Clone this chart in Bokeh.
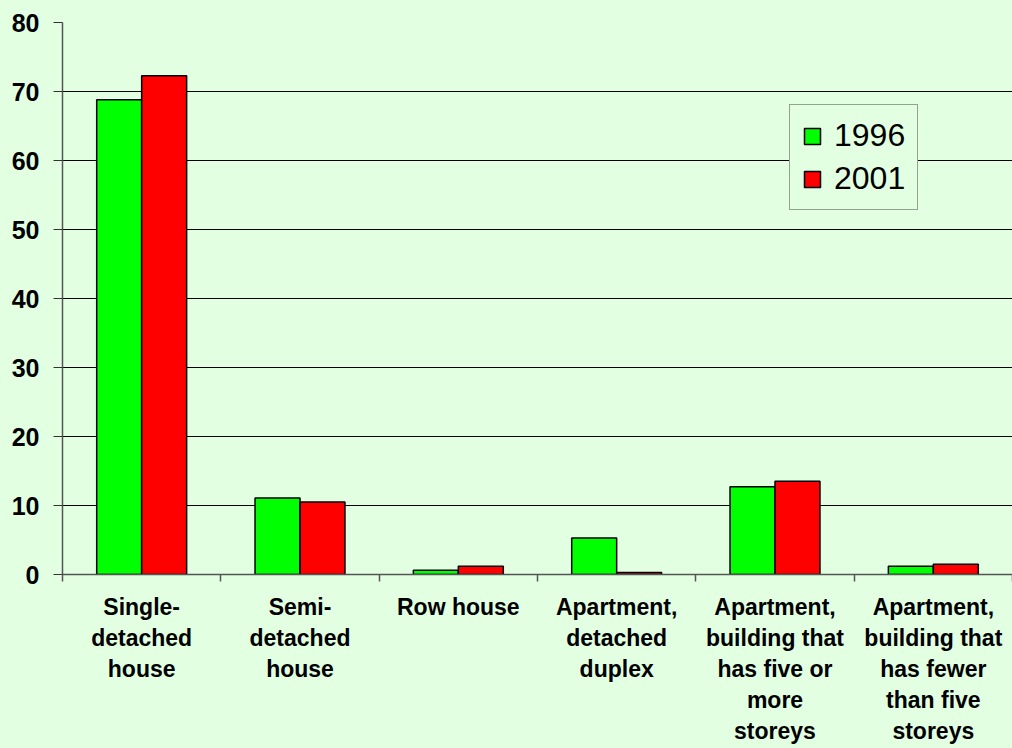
from bokeh.plotting import figure
from bokeh.models import Range1d, FixedTicker, Legend, LegendItem, ColumnDataSource
from bokeh.embed import file_html
from bokeh.resources import INLINE

categories = [
    "Single-\ndetached\nhouse",
    "Semi-\ndetached\nhouse",
    "Row house",
    "Apartment,\ndetached\nduplex",
    "Apartment,\nbuilding that\nhas five or\nmore\nstoreys",
    "Apartment,\nbuilding that\nhas fewer\nthan five\nstoreys",
]
years = ["1996", "2001"]
values_1996 = [68.8, 11.1, 0.6, 5.3, 12.7, 1.2]
values_2001 = [72.3, 10.5, 1.2, 0.3, 13.5, 1.5]
y_ticks = [0, 10, 20, 30, 40, 50, 60, 70, 80]

BG = "#E2FFE2"
BAR_W = 0.284

idx = list(range(len(categories)))
src = ColumnDataSource(dict(
    g=[i + 0.5 - BAR_W / 2 for i in idx],
    r=[i + 0.5 + BAR_W / 2 for i in idx],
    v1=values_1996,
    v2=values_2001,
))

p = figure(width=1012, height=748, output_backend="svg", toolbar_location=None,
           x_range=Range1d(0, len(categories)), y_range=Range1d(0, 80),
           min_border_left=62, min_border_top=22, min_border_right=0, min_border_bottom=174)
p.background_fill_color = BG
p.border_fill_color = BG
p.outline_line_color = None

r1 = p.vbar(x="g", top="v1", width=BAR_W, source=src, fill_color="#00FF00",
            line_color="black", line_width=1.5)
r2 = p.vbar(x="r", top="v2", width=BAR_W, source=src, fill_color="#FF0000",
            line_color="black", line_width=1.5)

p.xgrid.visible = False
p.ygrid.ticker = FixedTicker(ticks=y_ticks)
p.ygrid.grid_line_color = "black"
p.ygrid.grid_line_width = 1

ya = p.yaxis[0]
ya.ticker = FixedTicker(ticks=y_ticks)
ya.axis_line_color = "#555555"
ya.axis_line_width = 1.5
ya.major_tick_out = 9
ya.major_tick_in = 0
ya.minor_tick_line_color = None
ya.major_tick_line_color = "#333333"
ya.major_label_text_font = "Liberation Sans"
ya.major_label_text_font_style = "bold"
ya.major_label_text_font_size = "25px"
ya.major_label_text_color = "black"
ya.major_label_standoff = 14

xa = p.xaxis[0]
xa.ticker = FixedTicker(ticks=[i + 0.5 for i in idx], minor_ticks=list(range(len(categories) + 1)))
xa.major_label_overrides = {i + 0.5: categories[i] for i in idx}
xa.axis_line_color = "#555555"
xa.axis_line_width = 1.5
xa.major_tick_line_color = None
xa.major_tick_out = 0
xa.major_tick_in = 0
xa.minor_tick_line_color = "#555555"
xa.minor_tick_line_width = 1.5
xa.minor_tick_out = 7
xa.minor_tick_in = 0
xa.major_label_text_font = "Liberation Sans"
xa.major_label_text_font_style = "bold"
xa.major_label_text_font_size = "23px"
xa.major_label_text_color = "black"
xa.major_label_text_line_height = 1.2
xa.major_label_standoff = 12

legend = Legend(items=[LegendItem(label=years[0], renderers=[r1]),
                       LegendItem(label=years[1], renderers=[r2])],
                location=(727, 364))
legend.background_fill_color = BG
legend.background_fill_alpha = 1
legend.border_line_color = "#444444"
legend.border_line_width = 1.2
legend.label_text_font = "Liberation Sans"
legend.label_text_font_size = "32px"
legend.label_text_color = "black"
legend.glyph_width = 20
legend.glyph_height = 20
legend.label_standoff = 12
legend.padding = 12
legend.spacing = 6
legend.margin = 0
p.add_layout(legend)

html = file_html(p, INLINE)
html = html.replace("<head>", "<head><style>body{background:%s;}</style>" % BG, 1)
open("out.html", "w").write(html)
